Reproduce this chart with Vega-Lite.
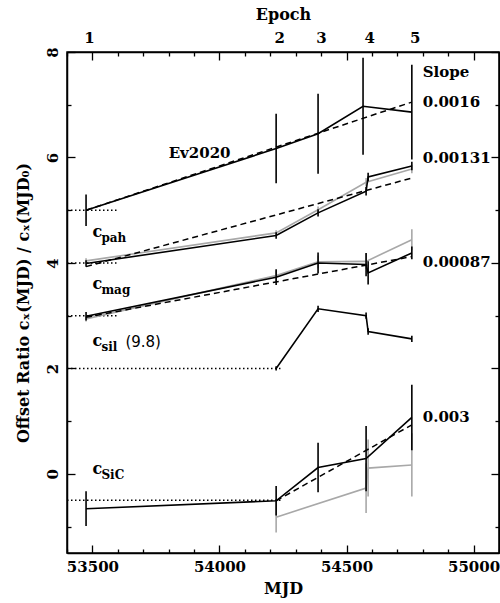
{
  "$schema": "https://vega.github.io/schema/vega-lite/v6.json",
  "width": 432,
  "height": 501,
  "autosize": {"type": "none"},
  "padding": {"left": 67, "top": 52, "right": 1, "bottom": 50},
  "background": "white",
  "config": {
    "view": {"stroke": "black", "strokeWidth": 1.5},
    "axis": {
      "domainColor": "black", "domainWidth": 1.5, "tickColor": "black", "tickWidth": 1.3,
      "labelFont": "DejaVu Serif", "labelFontWeight": "bold", "labelFontSize": 15, "labelColor": "black",
      "titleFont": "DejaVu Serif", "titleFontWeight": "bold", "titleFontSize": 16, "titleColor": "black",
      "grid": false, "labelOverlap": false, "labelFlush": false
    }
  },
  "datasets": {
    "blk": [
      {"series": "ev", "mjd": 53475, "val": 5.00, "err": 0.30},
      {"series": "ev", "mjd": 54223, "val": 6.17, "err": 0.66},
      {"series": "ev", "mjd": 54388, "val": 6.45, "err": 0.76},
      {"series": "ev", "mjd": 54565, "val": 6.97, "err": 0.92},
      {"series": "ev", "mjd": 54757, "val": 6.86, "err": 0.90},
      {"series": "pah", "mjd": 53475, "val": 3.99, "err": 0.06},
      {"series": "pah", "mjd": 54223, "val": 4.52, "err": 0.06},
      {"series": "pah", "mjd": 54388, "val": 4.95, "err": 0.07},
      {"series": "pah", "mjd": 54577, "val": 5.36, "err": 0.08},
      {"series": "pah", "mjd": 54585, "val": 5.63, "err": 0.08},
      {"series": "pah", "mjd": 54757, "val": 5.84, "err": 0.08},
      {"series": "mag", "mjd": 53475, "val": 2.99, "err": 0.08},
      {"series": "mag", "mjd": 54223, "val": 3.73, "err": 0.15},
      {"series": "mag", "mjd": 54388, "val": 4.00, "err": 0.20},
      {"series": "mag", "mjd": 54577, "val": 3.97, "err": 0.22},
      {"series": "mag", "mjd": 54585, "val": 3.81, "err": 0.22},
      {"series": "mag", "mjd": 54757, "val": 4.19, "err": 0.12},
      {"series": "sil", "mjd": 54223, "val": 2.00, "err": 0.04},
      {"series": "sil", "mjd": 54388, "val": 3.13, "err": 0.06},
      {"series": "sil", "mjd": 54577, "val": 3.00, "err": 0.06},
      {"series": "sil", "mjd": 54585, "val": 2.70, "err": 0.06},
      {"series": "sil", "mjd": 54757, "val": 2.56, "err": 0.06},
      {"series": "sic", "mjd": 53475, "val": -0.66, "err": 0.33},
      {"series": "sic", "mjd": 54223, "val": -0.51, "err": 0.28},
      {"series": "sic", "mjd": 54388, "val": 0.12, "err": 0.47},
      {"series": "sic", "mjd": 54577, "val": 0.29, "err": 0.62},
      {"series": "sic", "mjd": 54757, "val": 1.07, "err": 0.62}
    ],
    "gry": [
      {"series": "pah", "mjd": 53475, "val": 4.04, "err": 0.05},
      {"series": "pah", "mjd": 54223, "val": 4.57, "err": 0.05},
      {"series": "pah", "mjd": 54388, "val": 5.01, "err": 0.06},
      {"series": "pah", "mjd": 54577, "val": 5.53, "err": 0.08},
      {"series": "pah", "mjd": 54757, "val": 5.78, "err": 0.08},
      {"series": "mag", "mjd": 53475, "val": 2.94, "err": 0.05},
      {"series": "mag", "mjd": 54223, "val": 3.76, "err": 0.10},
      {"series": "mag", "mjd": 54388, "val": 4.02, "err": 0.12},
      {"series": "mag", "mjd": 54577, "val": 4.03, "err": 0.15},
      {"series": "mag", "mjd": 54757, "val": 4.44, "err": 0.20},
      {"series": "sic", "mjd": 54223, "val": -0.82, "err": 0.29},
      {"series": "sic", "mjd": 54577, "val": -0.27, "err": 0.47},
      {"series": "sic", "mjd": 54585, "val": 0.11, "err": 0.54},
      {"series": "sic", "mjd": 54757, "val": 0.17, "err": 0.60}
    ],
    "fits": [
      {"series": "ev", "mjd": 53475, "val": 5.00},
      {"series": "ev", "mjd": 54757, "val": 7.05},
      {"series": "pah", "mjd": 53475, "val": 3.93},
      {"series": "pah", "mjd": 54757, "val": 5.61},
      {"series": "mag", "mjd": 53475, "val": 2.97},
      {"series": "mag", "mjd": 54757, "val": 4.12},
      {"series": "sic", "mjd": 54223, "val": -0.51},
      {"series": "sic", "mjd": 54757, "val": 0.93}
    ],
    "refs": [
      {"series": "r5", "mjd": 53400, "val": 5},
      {"series": "r5", "mjd": 53600, "val": 5},
      {"series": "r4", "mjd": 53400, "val": 4},
      {"series": "r4", "mjd": 53600, "val": 4},
      {"series": "r3", "mjd": 53400, "val": 3},
      {"series": "r3", "mjd": 53600, "val": 3},
      {"series": "r2", "mjd": 53400, "val": 2},
      {"series": "r2", "mjd": 54240, "val": 2},
      {"series": "r0", "mjd": 53400, "val": -0.5},
      {"series": "r0", "mjd": 54240, "val": -0.5}
    ],
    "clabels": [
      {"mjd": 53500, "val": 4.50, "sub": "pah", "suffix": ""},
      {"mjd": 53500, "val": 3.50, "sub": "mag", "suffix": ""},
      {"mjd": 53500, "val": 2.42, "sub": "sil", "suffix": "(9.8)"},
      {"mjd": 53500, "val": 0.00, "sub": "SiC", "suffix": ""}
    ],
    "tlabels": [
      {"mjd": 53800, "val": 6.09, "txt": "Ev2020"},
      {"mjd": 54800, "val": 7.62, "txt": "Slope"},
      {"mjd": 54800, "val": 7.06, "txt": "0.0016"},
      {"mjd": 54800, "val": 5.99, "txt": "0.00131"},
      {"mjd": 54800, "val": 4.01, "txt": "0.00087"},
      {"mjd": 54800, "val": 1.08, "txt": "0.003"}
    ]
  },
  "layer": [
    {
      "data": {"name": "refs"},
      "mark": {"type": "line", "color": "black", "strokeWidth": 1.5, "strokeDash": [1.5, 2.5]},
      "encoding": {
        "x": {"field": "mjd", "type": "quantitative", "scale": {"domain": [53400, 55100], "nice": false, "zero": false},
          "axis": {"orient": "top", "title": "Epoch", "titlePadding": 8,
            "values": [53400, 53475, 53500, 53600, 53700, 53800, 53900, 54000, 54100, 54200, 54223, 54300, 54388, 54400, 54500, 54577, 54600, 54700, 54757, 54800, 54900, 55000, 55100],
            "labelExpr": "datum.value == 53475 ? '1' : datum.value == 54223 ? '2' : datum.value == 54388 ? '3' : datum.value == 54577 ? '4' : datum.value == 54757 ? '5' : ''",
            "tickSize": {"condition": [{"test": "datum.value % 100 != 0", "value": 0}, {"test": "datum.value % 500 == 0", "value": -8}], "value": -4},
            "labelPadding": 7, "labelOffset": 3}},
        "y": {"field": "val", "type": "quantitative", "scale": {"domain": [-1.5, 8], "nice": false, "zero": false},
          "axis": {"orient": "right", "title": null, "labels": false,
            "values": [-1, 0, 1, 2, 3, 4, 5, 6, 7, 8],
            "tickSize": {"condition": {"test": "datum.value % 2 == 0", "value": -8}, "value": -4}}},
        "detail": {"field": "series"}
      }
    },
    {
      "data": {"name": "gry"},
      "mark": {"type": "errorbar", "color": "#a8a8a8", "thickness": 1.6},
      "encoding": {
        "x": {"field": "mjd", "type": "quantitative", "axis": null},
        "y": {"field": "val", "type": "quantitative", "axis": null},
        "yError": {"field": "err"}
      }
    },
    {
      "data": {"name": "gry"},
      "mark": {"type": "line", "color": "#a8a8a8", "strokeWidth": 1.6},
      "encoding": {
        "x": {"field": "mjd", "type": "quantitative", "axis": null},
        "y": {"field": "val", "type": "quantitative", "axis": null},
        "detail": {"field": "series"}
      }
    },
    {
      "data": {"name": "fits"},
      "mark": {"type": "line", "color": "black", "strokeWidth": 1.5, "strokeDash": [6, 4]},
      "encoding": {
        "x": {"field": "mjd", "type": "quantitative", "axis": null},
        "y": {"field": "val", "type": "quantitative", "axis": null},
        "detail": {"field": "series"}
      }
    },
    {
      "data": {"name": "blk"},
      "mark": {"type": "errorbar", "color": "black", "thickness": 1.6},
      "encoding": {
        "x": {"field": "mjd", "type": "quantitative", "axis": null},
        "y": {"field": "val", "type": "quantitative", "axis": null},
        "yError": {"field": "err"}
      }
    },
    {
      "data": {"name": "blk"},
      "mark": {"type": "line", "color": "black", "strokeWidth": 1.6},
      "encoding": {
        "x": {"field": "mjd", "type": "quantitative",
          "axis": {"orient": "bottom", "title": "MJD", "titlePadding": 2, "format": "d",
            "values": [53400, 53500, 53600, 53700, 53800, 53900, 54000, 54100, 54200, 54300, 54400, 54500, 54600, 54700, 54800, 54900, 55000, 55100],
            "labelExpr": "datum.value % 500 == 0 ? datum.label : ''",
            "tickSize": {"condition": {"test": "datum.value % 500 == 0", "value": -8}, "value": -4},
            "labelPadding": 14}},
        "y": {"field": "val", "type": "quantitative",
          "axis": {"orient": "left", "title": "Offset Ratio cₓ(MJD)  /  cₓ(MJD₀)", "titlePadding": 10,
            "values": [-1, 0, 1, 2, 3, 4, 5, 6, 7, 8],
            "labelExpr": "datum.value % 2 == 0 ? datum.label : ''",
            "tickSize": {"condition": {"test": "datum.value % 2 == 0", "value": -8}, "value": -4},
            "labelAngle": -90, "labelAlign": "center", "labelBaseline": "bottom", "labelPadding": 15}},
        "detail": {"field": "series"}
      }
    },
    {
      "data": {"name": "clabels"},
      "mark": {"type": "text", "align": "left", "baseline": "alphabetic", "font": "DejaVu Serif", "fontWeight": "bold", "fontSize": 16, "color": "black"},
      "encoding": {
        "x": {"field": "mjd", "type": "quantitative", "axis": null},
        "y": {"field": "val", "type": "quantitative", "axis": null},
        "text": {"value": "c"}
      }
    },
    {
      "data": {"name": "clabels"},
      "mark": {"type": "text", "align": "left", "baseline": "alphabetic", "font": "DejaVu Serif", "fontWeight": "bold", "fontSize": 12, "dx": 9, "dy": 5, "color": "black"},
      "encoding": {
        "x": {"field": "mjd", "type": "quantitative", "axis": null},
        "y": {"field": "val", "type": "quantitative", "axis": null},
        "text": {"field": "sub"}
      }
    },
    {
      "data": {"name": "clabels"},
      "mark": {"type": "text", "align": "left", "baseline": "alphabetic", "font": "DejaVu Sans", "fontSize": 15, "dx": 33, "dy": 1, "color": "black"},
      "encoding": {
        "x": {"field": "mjd", "type": "quantitative", "axis": null},
        "y": {"field": "val", "type": "quantitative", "axis": null},
        "text": {"field": "suffix"}
      }
    },
    {
      "data": {"name": "tlabels"},
      "mark": {"type": "text", "align": "left", "baseline": "middle", "font": "DejaVu Serif", "fontWeight": "bold", "fontSize": 15, "color": "black"},
      "encoding": {
        "x": {"field": "mjd", "type": "quantitative", "axis": null},
        "y": {"field": "val", "type": "quantitative", "axis": null},
        "text": {"field": "txt"}
      }
    }
  ],
  "resolve": {"axis": {"x": "independent", "y": "independent"}}
}
